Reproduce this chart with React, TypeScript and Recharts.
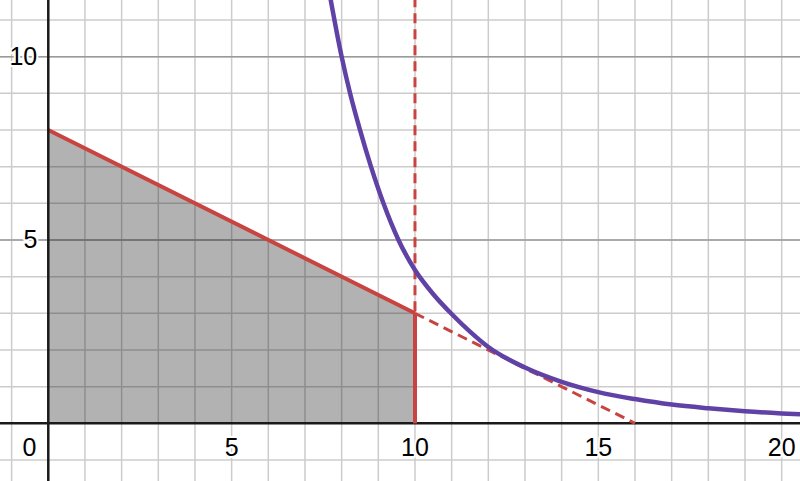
import {
  ComposedChart,
  Line,
  Area,
  Scatter,
  XAxis,
  YAxis,
  CartesianGrid,
  ReferenceLine,
} from "recharts";

const X_DOMAIN: [number, number] = [-1.317, 20.5];
const Y_DOMAIN: [number, number] = [-1.574, 11.545];

const minorTicksX = [-1, 0, 1, 2, 3, 4, 5, 6, 7, 8, 9, 10, 11, 12, 13, 14, 15, 16, 17, 18, 19, 20];
const minorTicksY = [-1, 0, 1, 2, 3, 4, 5, 6, 7, 8, 9, 10, 11];
const majorTicksX = [0, 5, 10, 15, 20];
const majorTicksY = [0, 5, 10];

// purple curve
const curveX = [7.62, 8.0, 8.23, 8.5, 8.8, 9.14, 9.55, 10, 10.5, 11, 11.5, 12, 13, 14, 15, 16, 17, 18, 19, 20, 20.6];
const curveY = [12.0, 10, 9, 8, 7, 6, 5, 4.18, 3.52, 2.98, 2.5, 2.08, 1.52, 1.13, 0.85, 0.66, 0.51, 0.41, 0.33, 0.27, 0.24];

// shaded region top edge
const regionX = [0, 10];
const regionY = [8, 3];

// dashed continuation of the line
const dashX = [10, 16];
const dashY = [3, 0];

// vertical x = 10
const vertDashedY = [0, 12];
const vertSolidY = [0, 3];

const xLabels = ["5", "10", "15", "20"];
const xLabelVals = [5, 10, 15, 20];
const yLabels = ["5", "10"];
const yLabelVals = [5, 10];

const PURPLE = "#6042a6";
const RED = "#c74440";
const FONT = '"Liberation Sans", Arial, sans-serif';

const zip = (xs: number[], ys: number[]) => xs.map((x, i) => ({ x, y: ys[i] }));

const curveData = zip(curveX, curveY);
const regionData = zip(regionX, regionY);
const dashData = zip(dashX, dashY);
const vertDashedData = vertDashedY.map((y) => ({ x: 10, y }));
const vertSolidData = vertSolidY.map((y) => ({ x: 10, y }));

const xLabelData = xLabelVals.map((x, i) => ({ x, y: 0, label: xLabels[i] }));
const yLabelData = yLabelVals.map((y, i) => ({ x: 0, y, label: yLabels[i] }));
const originData = [{ x: 0, y: 0, label: "0" }];

const textStyle = {
  fontFamily: FONT,
  fontSize: 25,
  fill: "#000",
  stroke: "#fff",
  strokeWidth: 4,
  paintOrder: "stroke" as const,
  strokeLinejoin: "round" as const,
};

const XLabel = (p: any) => (
  <text x={p.cx} y={p.cy + 33} textAnchor="middle" style={textStyle}>
    {p.payload.label}
  </text>
);

const YLabel = (p: any) => (
  <text x={p.cx - 11} y={p.cy + 8} textAnchor="end" style={textStyle}>
    {p.payload.label}
  </text>
);

const OriginLabel = (p: any) => (
  <text x={p.cx - 12} y={p.cy + 33} textAnchor="end" style={textStyle}>
    {p.payload.label}
  </text>
);

export default function App() {
  return (
    <div style={{ width: 800, height: 481, background: "#fff" }}>
      <style>{"body{margin:0}"}</style>
      <ComposedChart width={800} height={481} margin={{ top: 0, right: 0, bottom: 0, left: 0 }}>
        <XAxis type="number" dataKey="x" domain={X_DOMAIN} ticks={minorTicksX} allowDataOverflow hide />
        <YAxis type="number" dataKey="y" domain={Y_DOMAIN} ticks={minorTicksY} allowDataOverflow hide />
        <XAxis xAxisId="major" type="number" domain={X_DOMAIN} ticks={majorTicksX} allowDataOverflow hide />
        <YAxis yAxisId="major" type="number" domain={Y_DOMAIN} ticks={majorTicksY} allowDataOverflow hide />

        <CartesianGrid stroke="#cccccc" strokeWidth={1.5} syncWithTicks />
        <CartesianGrid xAxisId="major" yAxisId="major" stroke="#9a9a9a" strokeWidth={1.5} syncWithTicks />

        <ReferenceLine x={0} stroke="#1a1a1a" strokeWidth={2.5} />
        <ReferenceLine y={0} stroke="#1a1a1a" strokeWidth={2.5} />

        <Area
          data={regionData}
          dataKey="y"
          type="linear"
          baseValue={0}
          fill="#000"
          fillOpacity={0.3}
          stroke={RED}
          strokeWidth={4}
          isAnimationActive={false}
          dot={false}
          activeDot={false}
        />
        <Line
          data={vertDashedData}
          dataKey="y"
          type="linear"
          stroke={RED}
          strokeWidth={3}
          strokeDasharray="10 6"
          dot={false}
          activeDot={false}
          isAnimationActive={false}
        />
        <Line
          data={vertSolidData}
          dataKey="y"
          type="linear"
          stroke={RED}
          strokeWidth={4}
          dot={false}
          activeDot={false}
          isAnimationActive={false}
        />
        <Line
          data={dashData}
          dataKey="y"
          type="linear"
          stroke={RED}
          strokeWidth={3}
          strokeDasharray="10 6"
          dot={false}
          activeDot={false}
          isAnimationActive={false}
        />
        <Line
          data={curveData}
          dataKey="y"
          type="monotone"
          stroke={PURPLE}
          strokeWidth={4.5}
          dot={false}
          activeDot={false}
          isAnimationActive={false}
        />

        <Scatter data={xLabelData} dataKey="y" shape={XLabel} isAnimationActive={false} />
        <Scatter data={yLabelData} dataKey="y" shape={YLabel} isAnimationActive={false} />
        <Scatter data={originData} dataKey="y" shape={OriginLabel} isAnimationActive={false} />
      </ComposedChart>
    </div>
  );
}
